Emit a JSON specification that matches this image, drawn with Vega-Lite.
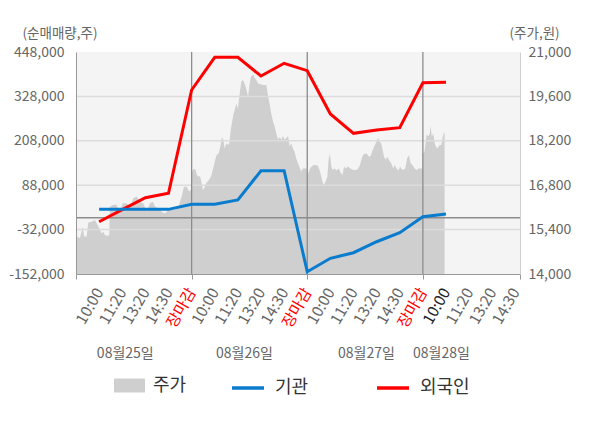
{
  "$schema": "https://vega.github.io/schema/vega-lite/v6.json",
  "description": "Intraday price with net buying of institutions and foreigners",
  "width": 444,
  "height": 222,
  "autosize": {"type": "none"},
  "padding": {"left": 76, "top": 52, "right": 80, "bottom": 154},
  "config": {
    "font": "Noto Sans CJK KR",
    "view": {"fill": "#f4f4f4", "stroke": null},
    "axis": {"labelFont": "Noto Sans CJK KR", "titleFont": "Noto Sans CJK KR", "labelColor": "#666", "labelFontSize": 14},
    "legend": {"labelFont": "Noto Sans CJK KR"}
  },
  "datasets": {
    "price": [
      {"t": 0, "p": 14780}, {"t": 0.06, "p": 15180}, {"t": 0.17, "p": 15130}, {"t": 0.29, "p": 15490},
      {"t": 0.35, "p": 15180}, {"t": 0.46, "p": 15180}, {"t": 0.53, "p": 15620}, {"t": 0.68, "p": 15650},
      {"t": 0.82, "p": 15700}, {"t": 0.97, "p": 15490}, {"t": 1.11, "p": 15280}, {"t": 1.18, "p": 15330},
      {"t": 1.25, "p": 15230}, {"t": 1.36, "p": 15200}, {"t": 1.44, "p": 15230}, {"t": 1.46, "p": 16120},
      {"t": 1.61, "p": 16180}, {"t": 1.76, "p": 16180}, {"t": 1.87, "p": 15910}, {"t": 2.02, "p": 16230},
      {"t": 2.19, "p": 16230}, {"t": 2.34, "p": 16120}, {"t": 2.48, "p": 16390}, {"t": 2.62, "p": 16440},
      {"t": 2.77, "p": 16280}, {"t": 2.91, "p": 16230}, {"t": 3.06, "p": 15960}, {"t": 3.2, "p": 16230},
      {"t": 3.32, "p": 16280}, {"t": 3.42, "p": 16120}, {"t": 3.56, "p": 16070}, {"t": 3.7, "p": 15960},
      {"t": 3.85, "p": 15910}, {"t": 3.99, "p": 16020}, {"t": 4.14, "p": 16070}, {"t": 4.28, "p": 16020},
      {"t": 4.43, "p": 16120}, {"t": 4.57, "p": 16440}, {"t": 4.67, "p": 16750}, {"t": 4.79, "p": 16750},
      {"t": 4.89, "p": 16600}, {"t": 4.97, "p": 16650},
      {"t": 5.0, "p": 17170}, {"t": 5.06, "p": 17300}, {"t": 5.16, "p": 17300}, {"t": 5.23, "p": 17120},
      {"t": 5.3, "p": 17070}, {"t": 5.36, "p": 17090}, {"t": 5.42, "p": 16910}, {"t": 5.49, "p": 16650},
      {"t": 5.56, "p": 16730}, {"t": 5.64, "p": 16880}, {"t": 5.74, "p": 16960}, {"t": 5.85, "p": 17090},
      {"t": 5.95, "p": 17390}, {"t": 6.02, "p": 17600}, {"t": 6.08, "p": 17750}, {"t": 6.17, "p": 17800},
      {"t": 6.24, "p": 18020}, {"t": 6.31, "p": 18310}, {"t": 6.37, "p": 18230}, {"t": 6.43, "p": 17960},
      {"t": 6.5, "p": 18120}, {"t": 6.57, "p": 18070}, {"t": 6.63, "p": 18120}, {"t": 6.69, "p": 18540},
      {"t": 6.74, "p": 18750}, {"t": 6.8, "p": 19010}, {"t": 6.86, "p": 19170}, {"t": 6.93, "p": 19380},
      {"t": 7.0, "p": 19220}, {"t": 7.08, "p": 19700}, {"t": 7.15, "p": 20070}, {"t": 7.22, "p": 20120},
      {"t": 7.29, "p": 20010}, {"t": 7.36, "p": 19850}, {"t": 7.44, "p": 19590}, {"t": 7.51, "p": 20010},
      {"t": 7.58, "p": 20240}, {"t": 7.67, "p": 20280}, {"t": 7.73, "p": 20170}, {"t": 7.8, "p": 20120},
      {"t": 7.87, "p": 20010}, {"t": 7.94, "p": 19990}, {"t": 8.08, "p": 19960}, {"t": 8.23, "p": 19960},
      {"t": 8.3, "p": 19640}, {"t": 8.37, "p": 19380}, {"t": 8.44, "p": 19070}, {"t": 8.52, "p": 18800},
      {"t": 8.59, "p": 18650}, {"t": 8.66, "p": 18440}, {"t": 8.73, "p": 18250}, {"t": 8.81, "p": 18310},
      {"t": 8.88, "p": 18230}, {"t": 8.95, "p": 18350}, {"t": 9.02, "p": 18230}, {"t": 9.09, "p": 18280},
      {"t": 9.17, "p": 18350}, {"t": 9.24, "p": 18020}, {"t": 9.31, "p": 18120}, {"t": 9.38, "p": 17960},
      {"t": 9.45, "p": 17860}, {"t": 9.52, "p": 17650}, {"t": 9.6, "p": 17490}, {"t": 9.67, "p": 17360},
      {"t": 9.74, "p": 17230}, {"t": 9.81, "p": 17330}, {"t": 9.89, "p": 17330}, {"t": 9.97, "p": 17330},
      {"t": 10.0, "p": 17090}, {"t": 10.07, "p": 17230}, {"t": 10.15, "p": 17360}, {"t": 10.26, "p": 17430},
      {"t": 10.36, "p": 17440}, {"t": 10.46, "p": 17410}, {"t": 10.55, "p": 17230}, {"t": 10.61, "p": 17070},
      {"t": 10.66, "p": 16910}, {"t": 10.72, "p": 16810}, {"t": 10.79, "p": 16910}, {"t": 10.87, "p": 17070},
      {"t": 10.92, "p": 17600}, {"t": 10.98, "p": 17800}, {"t": 11.04, "p": 17390}, {"t": 11.1, "p": 17280},
      {"t": 11.18, "p": 17330}, {"t": 11.27, "p": 17260}, {"t": 11.36, "p": 17330}, {"t": 11.44, "p": 17200},
      {"t": 11.53, "p": 17120}, {"t": 11.59, "p": 17390}, {"t": 11.67, "p": 17330}, {"t": 11.76, "p": 17390},
      {"t": 11.87, "p": 17330}, {"t": 11.99, "p": 17280}, {"t": 12.09, "p": 17280}, {"t": 12.19, "p": 17300},
      {"t": 12.28, "p": 17440}, {"t": 12.38, "p": 17700}, {"t": 12.45, "p": 17780}, {"t": 12.57, "p": 17800},
      {"t": 12.67, "p": 17700}, {"t": 12.74, "p": 17720}, {"t": 12.81, "p": 17860}, {"t": 12.88, "p": 17990},
      {"t": 12.96, "p": 18120}, {"t": 13.03, "p": 18250}, {"t": 13.08, "p": 18280}, {"t": 13.14, "p": 18170},
      {"t": 13.2, "p": 18120}, {"t": 13.26, "p": 17910}, {"t": 13.32, "p": 17700}, {"t": 13.39, "p": 17600},
      {"t": 13.46, "p": 17700}, {"t": 13.55, "p": 17570}, {"t": 13.63, "p": 17490}, {"t": 13.72, "p": 17330},
      {"t": 13.78, "p": 17440}, {"t": 13.86, "p": 17330}, {"t": 13.95, "p": 17260}, {"t": 14.01, "p": 17390},
      {"t": 14.06, "p": 17330}, {"t": 14.15, "p": 17280}, {"t": 14.24, "p": 17330}, {"t": 14.32, "p": 17650},
      {"t": 14.4, "p": 17750}, {"t": 14.47, "p": 17490}, {"t": 14.55, "p": 17440}, {"t": 14.64, "p": 17330},
      {"t": 14.73, "p": 17280}, {"t": 14.81, "p": 17330}, {"t": 14.97, "p": 17330},
      {"t": 15.0, "p": 17780}, {"t": 15.07, "p": 17860}, {"t": 15.16, "p": 18380}, {"t": 15.25, "p": 18350},
      {"t": 15.3, "p": 18440}, {"t": 15.33, "p": 18670}, {"t": 15.39, "p": 18330}, {"t": 15.45, "p": 18440},
      {"t": 15.51, "p": 18120}, {"t": 15.56, "p": 18020}, {"t": 15.62, "p": 17960}, {"t": 15.68, "p": 18020},
      {"t": 15.74, "p": 18070}, {"t": 15.79, "p": 18070}, {"t": 15.85, "p": 18280}, {"t": 15.91, "p": 18460},
      {"t": 15.94, "p": 18460}
    ],
    "flow": [
      {"t": 1, "series": "외국인", "v": -10700}, {"t": 2, "series": "외국인", "v": 22000},
      {"t": 3, "series": "외국인", "v": 54200}, {"t": 4, "series": "외국인", "v": 66100},
      {"t": 5, "series": "외국인", "v": 345300}, {"t": 6, "series": "외국인", "v": 433700},
      {"t": 7, "series": "외국인", "v": 433700}, {"t": 8, "series": "외국인", "v": 383100},
      {"t": 9, "series": "외국인", "v": 417500}, {"t": 10, "series": "외국인", "v": 397500},
      {"t": 11, "series": "외국인", "v": 280400}, {"t": 12, "series": "외국인", "v": 228200},
      {"t": 13, "series": "외국인", "v": 237200}, {"t": 14, "series": "외국인", "v": 243400},
      {"t": 15, "series": "외국인", "v": 365000}, {"t": 16, "series": "외국인", "v": 366100},
      {"t": 1, "series": "기관", "v": 22700}, {"t": 2, "series": "기관", "v": 22700},
      {"t": 3, "series": "기관", "v": 22700}, {"t": 4, "series": "기관", "v": 22700},
      {"t": 5, "series": "기관", "v": 36300}, {"t": 6, "series": "기관", "v": 36300},
      {"t": 7, "series": "기관", "v": 48000}, {"t": 8, "series": "기관", "v": 127200},
      {"t": 9, "series": "기관", "v": 127200}, {"t": 10, "series": "기관", "v": -145800},
      {"t": 11, "series": "기관", "v": -109600}, {"t": 12, "series": "기관", "v": -94500},
      {"t": 13, "series": "기관", "v": -64800}, {"t": 14, "series": "기관", "v": -40400},
      {"t": 15, "series": "기관", "v": 2800}, {"t": 16, "series": "기관", "v": 10100}
    ],
    "levels": [
      {"g": -32000, "kind": "grid"}, {"g": 88000, "kind": "grid"}, {"g": 208000, "kind": "grid"},
      {"g": 328000, "kind": "grid"}, {"g": 0, "kind": "zero"}
    ]
  },
  "layer": [
    {
      "data": {"name": "price"},
      "mark": {"type": "area", "opacity": 1, "color": "#cfcfcf"},
      "encoding": {
        "x": {
          "field": "t", "type": "quantitative",
          "scale": {"domain": [0, 19.2], "nice": false, "zero": false},
          "axis": {"orient": "bottom", "values": [0, 5, 10, 15, 19.2], "labels": false, "ticks": true, "tickSize": 5, "tickColor": "#999", "domain": true, "domainColor": "#999", "grid": false, "title": null, "zindex": 1}
        },
        "y": {
          "field": "p", "type": "quantitative",
          "scale": {"domain": [14000, 21000], "nice": false, "zero": false},
          "axis": {
            "orient": "right", "values": [14000, 15400, 16800, 18200, 19600, 21000], "format": ",d",
            "ticks": false, "domainColor": "#d0d0d0", "labelPadding": 8, "grid": false, "zindex": 1,
            "title": "(주가,원)", "titleAngle": 0, "titleX": -11, "titleY": -19, "titleAlign": "left",
            "titleBaseline": "middle", "titleFontWeight": "normal", "titleColor": "#666", "titleFontSize": 13.5
          }
        },
        "y2": {"datum": 14000},
        "fill": {
          "datum": "주가", "type": "nominal",
          "scale": {"range": ["#cfcfcf"]},
          "legend": {
            "orient": "none", "legendX": 38, "legendY": 318, "direction": "horizontal", "title": null,
            "symbolType": "M-1,-0.45H1V0.45H-1Z", "symbolSize": 961, "symbolStrokeWidth": 0, "symbolOpacity": 1,
            "labelFontSize": 18, "labelColor": "#333", "labelOffset": 8, "padding": 0
          }
        }
      }
    },
    {
      "layer": [
        {
          "data": {"name": "levels"},
          "mark": {"type": "rule", "strokeWidth": 1.5},
          "encoding": {
            "y": {
              "field": "g", "type": "quantitative",
              "scale": {"domain": [-152000, 448000], "nice": false, "zero": false},
              "axis": {
                "orient": "left",
                "values": [-152000, -32000, 88000, 208000, 328000, 448000],
                "labelExpr": "(datum.value < 0 ? '-' : '') + format(abs(datum.value), ',d')",
                "ticks": false, "labelPadding": 12, "domainColor": "#999", "grid": false, "zindex": 1,
                "title": "(순매매량,주)", "titleAngle": 0, "titleX": -54, "titleY": -19, "titleAlign": "left",
                "titleBaseline": "middle", "titleFontWeight": "normal", "titleColor": "#666", "titleFontSize": 13.5
              }
            },
            "color": {
              "field": "kind", "type": "nominal",
              "scale": {"domain": ["grid", "zero"], "range": ["#dcdcdc", "#8c8c8c"]},
              "legend": null
            }
          }
        },
        {
          "data": {"values": [{"t": 5}, {"t": 10}, {"t": 15}]},
          "mark": {"type": "rule", "color": "#8c8c8c", "strokeWidth": 1.3},
          "encoding": {
            "x": {
              "field": "t", "type": "quantitative",
              "scale": {"domain": [0, 19.2], "nice": false, "zero": false},
              "axis": {
                "orient": "bottom",
                "values": [2.11, 7.26, 12.54, 15.78],
                "labelExpr": "datum.value < 5 ? '08월25일' : datum.value < 10 ? '08월26일' : datum.value < 15 ? '08월27일' : '08월28일'",
                "ticks": false, "domain": false, "grid": false, "labelAngle": 0, "labelAlign": "center",
                "labelBaseline": "middle", "offset": 74, "labelPadding": 5, "labelFontSize": 14,
                "labelColor": "#666", "labelOverlap": false, "title": null
              }
            }
          }
        },
        {
          "data": {"name": "flow"},
          "mark": {"type": "line", "strokeWidth": 3},
          "encoding": {
            "x": {
              "field": "t", "type": "quantitative",
              "scale": {"domain": [0, 19.2], "nice": false, "zero": false},
              "axis": {
                "orient": "bottom",
                "values": [1, 2, 3, 4, 5, 6, 7, 8, 9, 10, 11, 12, 13, 14, 15, 16, 17, 18, 19],
                "labelExpr": "['10:00','11:20','13:20','14:30','장마감'][(datum.value - 1) % 5]",
                "labelAngle": -60, "labelFontSize": 15.5,
                "labelColor": {"condition": [{"test": "datum.value % 5 == 0", "value": "#ff0000"}, {"test": "datum.value == 16", "value": "#222"}], "value": "#666"},
                "ticks": false, "domain": false, "grid": false, "labelPadding": 15,
                "labelOverlap": false, "labelBound": false, "labelFlush": false, "title": null
              }
            },
            "y": {
              "field": "v", "type": "quantitative",
              "scale": {"domain": [-152000, 448000], "nice": false, "zero": false},
              "axis": {
                "orient": "left",
                "values": [-152000, -32000, 88000, 208000, 328000, 448000],
                "labelExpr": "(datum.value < 0 ? '-' : '') + format(abs(datum.value), ',d')",
                "ticks": false, "labelPadding": 12, "domainColor": "#999", "grid": false, "zindex": 1,
                "title": "(순매매량,주)", "titleAngle": 0, "titleX": -54, "titleY": -19, "titleAlign": "left",
                "titleBaseline": "middle", "titleFontWeight": "normal", "titleColor": "#666", "titleFontSize": 13.5
              }
            },
            "stroke": {
              "field": "series", "type": "nominal",
              "scale": {"domain": ["기관", "외국인"], "range": ["#0a7cce", "#ff0000"]},
              "legend": {
                "orient": "none", "legendX": 154, "legendY": 318, "direction": "horizontal", "title": null,
                "symbolType": "stroke", "symbolSize": 1024, "symbolStrokeWidth": 3.5,
                "labelFontSize": 18, "labelColor": "#333", "labelOffset": 9, "columnPadding": 61, "padding": 0
              }
            }
          }
        }
      ],
      "resolve": {"axis": {"x": "independent"}, "scale": {"color": "independent"}}
    }
  ],
  "resolve": {"scale": {"y": "independent"}, "axis": {"x": "independent"}}
}
